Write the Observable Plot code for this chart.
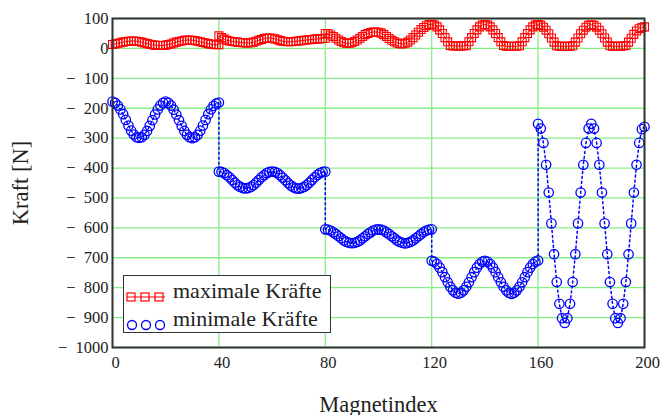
<!DOCTYPE html>
<html><head><meta charset="utf-8">
<script src="https://cdn.jsdelivr.net/npm/d3@7"></script>
<script src="https://cdn.jsdelivr.net/npm/@observablehq/plot@0.6"></script>
<style>
body{margin:0;background:#fff;}
#wrap{position:relative;width:663px;height:415px;}
</style>
</head><body>
<div id="wrap"></div>
<script>
// segment start indices (Magnetindex)
const segStarts = [0, 40, 80, 120, 160];
const xTicks = [0, 40, 80, 120, 160, 200];
const yTicks = [100, 0, -100, -200, -300, -400, -500, -600, -700, -800, -900, -1000];
const seriesNames = ["maximale Kräfte", "minimale Kräfte"];

// maximale Kräfte, 41 values per segment
const maxSeg1 = [13,15,17,19,21,23,24,25,25,24,23,21,18,16,14,12,11,10,10,10,11,13,15,18,21,23,25,27,28,28,27,26,24,22,20,18,16,14,13,12,12];
const maxSeg2 = [42,36,31,27,25,23,22,21,20,19,18,18,19,21,24,27,30,33,35,35,34,32,29,26,24,23,22,22,23,24,25,26,27,28,29,30,31,32,32,33,34];
const maxSeg3 = [50,49,45,40,34,28,23,19,17,17,19,23,28,34,40,46,50,53,55,55,54,51,46,40,33,27,22,18,16,15,17,21,28,36,45,54,63,70,76,80,81];
const maxSeg4 = [80,78,72,62,50,36,22,10,8,8,8,8,8,10,22,36,50,62,72,78,80,78,72,62,50,36,22,10,7,7,7,7,7,9,22,36,50,62,72,78,79];
const maxSeg5 = [79,77,71,61,49,35,21,9,7,7,7,7,7,9,21,35,49,61,71,77,79,77,71,61,49,35,21,9,7,7,7,7,8,10,21,34,47,58,66,70,72];

// minimale Kräfte, 41 values per segment
const minSeg1 = [-178,-182,-191,-204,-220,-239,-258,-275,-288,-297,-299,-297,-289,-276,-259,-240,-221,-204,-191,-182,-178,-182,-191,-205,-221,-240,-259,-276,-289,-297,-300,-297,-289,-275,-258,-239,-220,-204,-192,-184,-181];
const minSeg2 = [-412,-413,-417,-424,-431,-440,-449,-457,-463,-467,-468,-467,-463,-457,-449,-440,-431,-424,-417,-413,-412,-413,-417,-424,-432,-441,-450,-458,-464,-468,-469,-467,-463,-457,-449,-440,-431,-423,-417,-413,-412];
const minSeg3 = [-605,-606,-609,-615,-621,-628,-635,-642,-647,-650,-651,-650,-647,-642,-635,-628,-621,-615,-609,-606,-605,-606,-609,-615,-621,-628,-635,-642,-647,-650,-652,-650,-647,-642,-635,-628,-621,-614,-609,-606,-605];
const minSeg4 = [-710,-713,-721,-733,-748,-765,-782,-797,-809,-817,-820,-817,-809,-797,-782,-765,-748,-733,-721,-713,-710,-713,-721,-733,-748,-765,-782,-797,-809,-817,-821,-817,-809,-797,-782,-765,-748,-733,-721,-713,-709];
const minSeg5 = [-252,-268,-316,-389,-482,-585,-688,-781,-854,-902,-918,-902,-854,-781,-688,-585,-482,-389,-316,-268,-252,-268,-316,-389,-482,-585,-688,-781,-854,-902,-918,-902,-854,-781,-688,-585,-482,-389,-316,-270,-262];

function build(segs) {
  const out = [];
  segs.forEach((seg, s) => seg.forEach((v, j) => out.push({x: segStarts[s] + j, v})));
  return out;
}
const maxData = build([maxSeg1, maxSeg2, maxSeg3, maxSeg4, maxSeg5]);
const minData = build([minSeg1, minSeg2, minSeg3, minSeg4, minSeg5]);

const fmt = d => d < 0 ? "\u2212\u2002" + Math.abs(d) : String(d);
const gridColor = "#86ef86";
const serif = "'Liberation Serif'";

const chart = Plot.plot({
  width: 663, height: 415,
  marginLeft: 112, marginRight: 19, marginTop: 18, marginBottom: 68,
  style: {fontSize: "16.5px", color: "#222", background: "#fff", overflow: "visible", fontFamily: serif},
  x: {domain: [0, 200]},
  y: {domain: [-1000, 100]},
  marks: [
    Plot.gridX(xTicks, {stroke: gridColor, strokeOpacity: 1, strokeWidth: 1.3}),
    Plot.gridY(yTicks, {stroke: gridColor, strokeOpacity: 1, strokeWidth: 1.3}),
    Plot.axisX(xTicks, {tickSize: 0, tickPadding: 9, dx: 3, label: "Magnetindex", labelAnchor: "center", labelArrow: "none", labelOffset: 64}),
    Plot.axisY(yTicks, {tickSize: 0, tickPadding: 4, tickFormat: fmt, label: "Kraft [N]", labelAnchor: "center", labelArrow: "none", labelOffset: 100}),
    Plot.line(maxData, {x: "x", y: "v", stroke: "red", strokeWidth: 1}),
    Plot.dot(maxData, {x: "x", y: "v", symbol: "square", r: 4.5, stroke: "red", strokeWidth: 1.1, fill: "none"}),
    Plot.line(minData, {x: "x", y: "v", stroke: "blue", strokeWidth: 1.5, strokeDasharray: "2,3"}),
    Plot.dot(minData, {x: "x", y: "v", symbol: "circle", r: 4.7, stroke: "blue", strokeWidth: 1.3, fill: "none"}),
    Plot.frame({stroke: "#333", strokeWidth: 2})
  ]
});
const wrap = document.getElementById("wrap");
wrap.appendChild(chart);
chart.setAttribute("font-family", "Liberation Serif");
chart.style.fontFamily = serif;
chart.querySelectorAll("text").forEach(t => { t.setAttribute("font-family", "Liberation Serif"); t.style.fontFamily = serif; });
chart.querySelectorAll('g[aria-label="x-axis label"] text, g[aria-label="y-axis label"] text').forEach(t => { t.style.fontSize = "22.5px"; });

// legend
const legend = document.createElement("div");
Object.assign(legend.style, {position: "absolute", left: "123px", top: "275px", width: "206px", height: "56px",
  border: "1.5px solid #333", background: "#fff", fontFamily: serif, fontSize: "22px", color: "#222"});
const sq = `<svg width="40" height="14"><line x1="1" x2="39" y1="7" y2="7" stroke="red" stroke-width="1.2"/>${[5,19,33].map(c=>`<rect x="${c-4}" y="3" width="8" height="8" fill="none" stroke="red" stroke-width="1.2"/>`).join("")}</svg>`;
const ci = `<svg width="40" height="14">${[5,19,33].map(c=>`<circle cx="${c+1}" cy="7" r="4.5" fill="none" stroke="blue" stroke-width="1.3"/>`).join("")}</svg>`;
const row = (top, sym, name) => `<div style="position:absolute;left:2px;top:${top}px;height:24px;display:flex;align-items:center;white-space:nowrap;font-family:'Liberation Serif'"><span style="display:inline-block;margin-right:7px;height:14px">${sym}</span><span>${name}</span></div>`;
legend.innerHTML = row(3, sq, seriesNames[0]) + row(31, ci, seriesNames[1]);
wrap.appendChild(legend);
</script>
</body></html>
